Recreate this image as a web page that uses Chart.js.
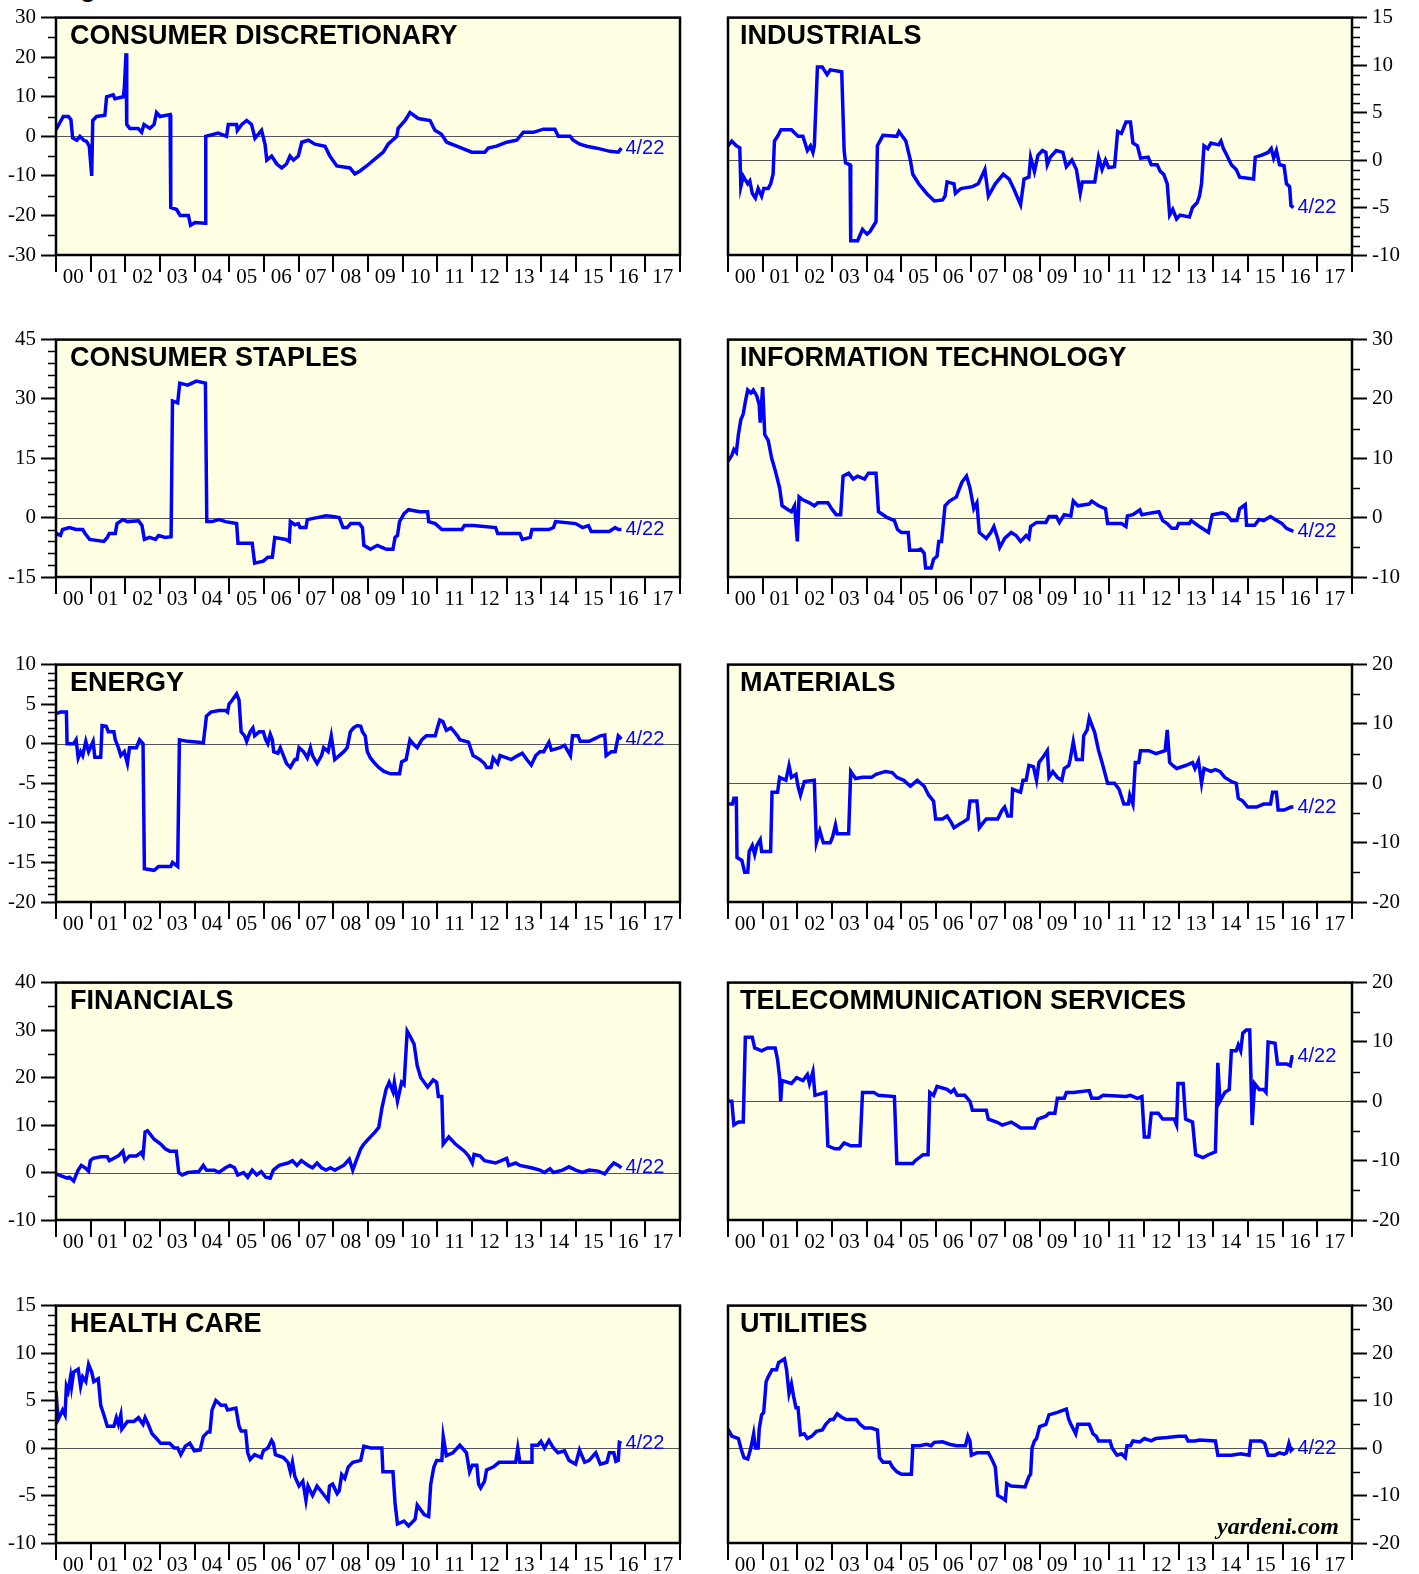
<!DOCTYPE html>
<html>
<head>
<meta charset="utf-8">
<title>S&amp;P 500 Sectors</title>
<script src="https://cdn.jsdelivr.net/npm/chart.js@4.4.0/dist/chart.umd.min.js"></script>
<style>
  body { margin: 0; background: #fff; width: 1419px; height: 1574px; position: relative; overflow: hidden; }
  canvas { position: absolute; z-index: 1; }
  .title { position: absolute; z-index: 2; font: bold 27px 'Liberation Sans', Arial, sans-serif; line-height: 27px; color: #000; white-space: nowrap; }
  .brand { position: absolute; z-index: 2; right: 80px; top: 1514px; font: italic bold 24px 'Liberation Serif', serif; line-height: 24px; color: #000; }
  .cut { position: absolute; left: 80px; top: -25px; font: bold 26px 'Liberation Sans', Arial, sans-serif; line-height: 26px; }
</style>
</head>
<body>
<div class="cut">g</div>
<div class="brand">yardeni.com</div>

<script type="text/javascript">

// x values are years since 2000
const yearLabels = ['00','01','02','03','04','05','06','07','08','09','10','11','12','13','14','15','16','17'];

const consumerDiscretionary = [
  [0,1.7],[0.21,5],[0.36,5],[0.43,4.2],[0.48,-0.4],[0.60,-1],[0.69,0],[0.80,-1],[0.88,-1.3],[0.96,-2.5],[1.03,-10],[1.06,4],
  [1.17,5],[1.41,5.3],[1.46,10],[1.65,10.5],[1.70,9.5],[1.94,10],[1.97,12],[2.02,21],[2.04,3],[2.13,2],[2.37,2],[2.47,1],
  [2.54,3],[2.71,2],[2.83,3],[2.90,6],[3.00,5],[3.29,5.5],[3.31,-18],[3.48,-18.5],[3.58,-20],[3.82,-20],[3.88,-22.5],
  [4.01,-21.8],[4.30,-22],[4.32,0],[4.68,0.8],[4.92,0],[4.97,3],[5.21,3],[5.23,1.5],[5.36,3],[5.50,4],[5.64,3],[5.74,-0.5],
  [5.93,1.5],[6.03,-2],[6.08,-6],[6.22,-5],[6.37,-7],[6.51,-8],[6.65,-7],[6.75,-5],[6.85,-6],[6.99,-5],[7.09,-1.5],[7.28,-1],
  [7.47,-2],[7.76,-2.5],[7.90,-5],[8.10,-7.5],[8.48,-8],[8.62,-9.5],[8.77,-8.75],[8.96,-7.5],[9.30,-5],[9.44,-4],[9.58,-2],
  [9.83,0],[9.87,2],[10.07,4],[10.21,6],[10.45,4.5],[10.79,4],[10.93,1.5],[11.12,0.5],[11.27,-1.5],[11.56,-2.5],[11.99,-4],
  [12.37,-4],[12.47,-3],[12.71,-2.5],[13.00,-1.5],[13.29,-1],[13.48,1],[13.77,1],[14.06,1.8],[14.39,1.8],[14.49,0],[14.83,0],
  [14.92,-1],[15.11,-2],[15.31,-2.5],[15.60,-3],[15.98,-3.8],[16.22,-4],[16.31,-3]
];

const industrials = [
  [0,1.5],[0.11,2],[0.24,1.5],[0.34,1.3],[0.37,-2.8],[0.44,-1.7],[0.57,-2.5],[0.63,-2.2],[0.70,-3.5],[0.79,-4],[0.87,-3],
  [0.97,-3.8],[1.03,-3],[1.16,-3],[1.23,-2.5],[1.30,-1.5],[1.34,2],[1.43,2.5],[1.53,3.2],[1.83,3.2],[2.02,2.5],[2.16,2.5],
  [2.29,1],[2.38,1.5],[2.45,0.8],[2.49,1.5],[2.58,9.8],[2.72,9.8],[2.86,9],[2.95,9.5],[3.28,9.3],[3.35,1],[3.39,-0.3],
  [3.52,-0.5],[3.54,-8.5],[3.74,-8.5],[3.88,-7.3],[4.01,-7.8],[4.10,-7.5],[4.27,-6.5],[4.31,1.5],[4.47,2.6],[4.87,2.5],
  [4.93,3],[5.13,2],[5.26,0],[5.33,-1.5],[5.50,-2.5],[5.75,-3.6],[5.95,-4.3],[6.19,-4.2],[6.26,-3.8],[6.32,-2.3],[6.52,-2.5],
  [6.56,-3.5],[6.72,-3],[7.05,-2.8],[7.22,-2.5],[7.41,-1],[7.51,-3.8],[7.71,-2.5],[7.94,-1.5],[8.11,-2],[8.24,-3],[8.44,-4.7],
  [8.54,-2],[8.68,-1.8],[8.73,0.3],[8.84,-1.2],[8.94,0.5],[9.07,1],[9.17,0.8],[9.21,-0.5],[9.30,0.3],[9.47,1],[9.66,0.8],
  [9.76,-0.7],[9.92,0],[10.05,-1],[10.16,-3.5],[10.22,-2.3],[10.58,-2.3],[10.69,0.3],[10.79,-1],[10.89,0],[10.98,-0.8],
  [11.15,-0.7],[11.24,3],[11.35,2.8],[11.48,4],[11.61,4],[11.68,1.8],[11.81,1.5],[11.90,0.2],[12.12,0.3],[12.21,-0.5],
  [12.38,-0.5],[12.47,-1.2],[12.57,-1.5],[12.67,-2.5],[12.74,-5.8],[12.83,-5.2],[12.94,-6.2],[13.04,-5.8],[13.31,-6],
  [13.40,-5],[13.53,-4.5],[13.60,-3.8],[13.66,-2.5],[13.73,1.5],[13.84,1.2],[13.93,1.8],[14.15,1.6],[14.22,2],[14.29,1.2],
  [14.39,0.5],[14.52,-0.5],[14.66,-1],[14.76,-1.8],[15.16,-2],[15.21,0.3],[15.38,0.5],[15.58,0.8],[15.67,1.2],[15.74,0.2],
  [15.82,1],[15.91,-0.5],[16.04,-0.6],[16.11,-2.5],[16.20,-2.8],[16.24,-4.8],[16.31,-5]
];

const consumerStaples = [
  [0,-4],[0.13,-4.5],[0.19,-3],[0.39,-2.5],[0.58,-3],[0.77,-3],[0.84,-4],[0.97,-5.5],[1.38,-6],[1.48,-5],[1.54,-4],[1.71,-4],
  [1.76,-1.5],[1.93,-0.5],[2.06,-1],[2.38,-0.8],[2.48,-2],[2.55,-5.5],[2.70,-5],[2.87,-5.5],[2.96,-4.5],[3.15,-5],[3.32,-4.8],
  [3.36,29.5],[3.51,29],[3.57,34],[3.80,33.5],[4.05,34.5],[4.31,34],[4.35,-1],[4.50,-1],[4.70,-0.5],[4.89,-1],[5.21,-1.5],
  [5.25,-6.5],[5.66,-6.5],[5.73,-11.5],[5.98,-11],[6.11,-10],[6.24,-10],[6.31,-5],[6.63,-5.5],[6.73,-6],[6.76,-1],[6.89,-1.8],
  [6.99,-1.5],[7.04,-2.5],[7.21,-2.5],[7.25,-0.5],[7.53,0],[7.79,0.5],[7.98,0.3],[8.17,0],[8.28,-2.5],[8.40,-2.5],[8.50,-1.5],
  [8.75,-1.5],[8.84,-2.5],[8.88,-7],[9.07,-8],[9.27,-7],[9.40,-7.5],[9.53,-8],[9.72,-8],[9.78,-5],[9.85,-4.5],[9.91,-1],
  [10.04,1],[10.17,2],[10.49,1.5],[10.72,1.5],[10.75,-1],[10.94,-1.5],[11.13,-3],[11.71,-3],[11.78,-2],[12.04,-2],[12.68,-2.5],
  [12.74,-4],[13.38,-4],[13.45,-5.5],[13.68,-5],[13.73,-3],[14.22,-3],[14.35,-2.5],[14.41,-1],[14.99,-1.5],[15.19,-2.5],
  [15.36,-2],[15.44,-3.5],[15.96,-3.5],[16.13,-2.5],[16.22,-3],[16.31,-3]
];

const infoTech = [
  [0,9.5],[0.11,10.5],[0.17,11.5],[0.24,11],[0.30,14],[0.37,16.5],[0.44,17.5],[0.50,19.5],[0.57,21.5],[0.66,21],[0.73,21.5],
  [0.83,20.5],[0.90,19],[0.93,16],[1.00,22],[1.06,14],[1.16,13],[1.26,10],[1.36,8],[1.49,5],[1.56,2],[1.69,1.5],[1.83,1],
  [1.92,2],[2.00,-4],[2.05,3.5],[2.16,3],[2.35,2.5],[2.49,2],[2.59,2.5],[2.88,2.5],[2.99,1.5],[3.12,0.5],[3.25,0.5],[3.32,7],
  [3.48,7.5],[3.61,6.5],[3.74,7],[3.94,6.5],[4.05,7.5],[4.27,7.5],[4.34,1],[4.47,0.5],[4.60,0],[4.80,-0.5],[4.89,-2],[5.00,-2.5],
  [5.20,-2.5],[5.24,-5.5],[5.46,-5.5],[5.56,-5.3],[5.66,-6],[5.70,-8.5],[5.86,-8.5],[5.93,-7],[6.03,-6.5],[6.08,-4],[6.16,-4],
  [6.26,2],[6.39,2.8],[6.59,3.5],[6.65,4.5],[6.75,6],[6.88,7],[6.98,5],[7.09,1.5],[7.18,2.5],[7.25,-2.5],[7.35,-3],[7.45,-3.5],
  [7.58,-2.5],[7.67,-1.5],[7.78,-3.5],[7.84,-5],[7.98,-3.5],[8.17,-2.5],[8.31,-3],[8.44,-4],[8.60,-3],[8.68,-3.5],[8.73,-1.5],
  [8.90,-0.8],[9.17,-0.8],[9.26,0.2],[9.47,0.2],[9.56,-0.8],[9.70,0.5],[9.89,0.3],[9.96,2.8],[10.09,2],[10.42,2.3],[10.49,2.8],
  [10.69,2],[10.89,1.5],[10.95,-1],[11.35,-1],[11.48,-1.5],[11.52,0.3],[11.68,0.5],[11.88,1.3],[11.94,0.5],[12.21,0.8],
  [12.43,1],[12.54,-0.5],[12.67,-1],[12.80,-1.8],[12.94,-1.8],[13.00,-1],[13.31,-1],[13.36,-0.5],[13.60,-1.5],[13.86,-2.5],
  [13.97,0.5],[14.26,0.8],[14.39,0.5],[14.52,-0.5],[14.68,-0.5],[14.76,1.5],[14.92,2.2],[14.96,-1.3],[15.19,-1.3],[15.32,-0.3],
  [15.45,-0.5],[15.65,0.2],[15.78,-0.3],[15.98,-1],[16.11,-1.8],[16.31,-2.3]
];

const energy = [
  [0,3.8],[0.13,4],[0.30,4],[0.32,0],[0.51,0],[0.58,0.5],[0.64,-1.8],[0.71,-1],[0.77,-1.5],[0.86,0.3],[0.94,-1],[1.07,0.3],
  [1.12,-1.7],[1.29,-1.7],[1.33,2.3],[1.45,2.2],[1.51,1.5],[1.67,1.5],[1.71,0.5],[1.80,-0.5],[1.87,-1.5],[1.97,-1],[2.06,-2.5],
  [2.12,-0.5],[2.32,-0.5],[2.41,0.5],[2.51,0],[2.55,-15.8],[2.83,-16],[2.96,-15.5],[3.31,-15.5],[3.36,-15],[3.51,-15.5],
  [3.56,0.5],[3.80,0.3],[4.12,0.2],[4.25,0.1],[4.34,3.5],[4.47,4],[4.70,4.2],[4.89,4.2],[4.95,4],[4.99,5],[5.08,5.5],[5.21,6.3],
  [5.28,5.5],[5.34,1.5],[5.44,1],[5.50,0.3],[5.60,1.5],[5.68,2],[5.73,1],[5.86,1.5],[5.98,1.5],[6.05,0.5],[6.11,0],[6.18,1.2],
  [6.24,0.5],[6.28,-1],[6.40,-1.2],[6.47,-0.5],[6.56,-1.5],[6.65,-2.5],[6.76,-3],[6.89,-2],[6.95,-2],[7.01,-0.5],[7.14,-1],
  [7.25,-1.8],[7.34,-0.5],[7.40,-1.5],[7.53,-2.5],[7.66,-1.5],[7.72,-0.5],[7.85,-1],[7.94,1],[8.04,-2],[8.17,-1.5],[8.30,-1],
  [8.40,-0.5],[8.49,1.5],[8.58,2],[8.69,2.3],[8.79,2.2],[8.84,1.5],[8.92,1],[8.98,-1],[9.07,-1.8],[9.20,-2.5],[9.31,-3],
  [9.46,-3.5],[9.65,-3.8],[9.91,-3.8],[9.97,-2.3],[10.10,-2],[10.21,0.5],[10.30,0],[10.42,-0.5],[10.55,0.5],[10.68,1],
  [10.94,1],[11.00,2],[11.07,3],[11.16,2.8],[11.26,1.7],[11.39,2],[11.49,1.5],[11.58,1],[11.65,0.5],[11.90,0.2],[12.03,-1.5],
  [12.23,-2],[12.36,-2.5],[12.42,-3],[12.55,-3],[12.61,-1.8],[12.74,-2.5],[12.81,-1.5],[13.00,-1.8],[13.13,-2],[13.32,-1.5],
  [13.45,-1.2],[13.58,-2],[13.71,-2.7],[13.84,-1.5],[13.96,-1],[14.07,-1],[14.22,0.2],[14.29,-0.8],[14.54,-0.5],[14.67,-0.2],
  [14.84,-1.5],[14.90,1],[15.06,1],[15.12,0.3],[15.38,0.3],[15.57,0.7],[15.70,1],[15.83,1.1],[15.87,-1.5],[16.02,-1],
  [16.13,-1],[16.22,1],[16.31,0.6]
];

const materials = [
  [0,-3.5],[0.13,-3.5],[0.17,-2.5],[0.24,-2.5],[0.26,-12.5],[0.40,-13],[0.48,-15],[0.57,-15],[0.61,-11.5],[0.70,-10.5],
  [0.77,-12],[0.83,-10.5],[0.93,-9.5],[0.97,-11.5],[1.23,-11.5],[1.27,-1.5],[1.43,-1.5],[1.49,1],[1.67,0.5],[1.76,3],[1.83,1],
  [1.96,1.5],[2.02,-0.5],[2.09,-2],[2.20,0.3],[2.49,0.5],[2.55,-10],[2.65,-8],[2.75,-10],[2.95,-10],[3.02,-9],[3.10,-7],
  [3.15,-8.5],[3.48,-8.5],[3.54,2],[3.68,0.8],[3.88,1],[4.14,1],[4.27,1.5],[4.54,2],[4.74,1.8],[4.87,1],[5.07,0.5],[5.26,-0.5],
  [5.46,0.5],[5.66,-0.5],[5.79,-2],[5.93,-3],[5.99,-6],[6.19,-6],[6.32,-5.5],[6.43,-6.5],[6.52,-7.5],[6.65,-7],[6.79,-6.5],
  [6.92,-6],[6.98,-3],[7.18,-3],[7.25,-7.5],[7.38,-6.5],[7.45,-6],[7.78,-6],[7.91,-4.5],[7.98,-4],[8.07,-5.5],[8.17,-5.5],
  [8.21,-1],[8.44,-1.5],[8.51,0.5],[8.60,0.5],[8.68,3],[8.81,2.8],[8.90,0.5],[8.97,3.5],[9.10,4.5],[9.21,5.5],[9.26,1],[9.37,2],
  [9.50,1],[9.63,0.5],[9.70,2.5],[9.83,3],[9.87,4],[9.96,7],[10.05,4],[10.22,4],[10.26,8],[10.36,9],[10.42,11],[10.58,8.5],
  [10.69,5.5],[10.79,3.5],[10.95,0],[11.15,0],[11.28,-1],[11.42,-3.5],[11.55,-3.5],[11.59,-2],[11.68,-3.5],[11.75,3.5],
  [11.85,3.5],[11.90,5.5],[12.14,5.5],[12.34,5],[12.61,5.5],[12.67,9],[12.74,3.5],[12.83,3],[12.94,2.5],[13.20,3],[13.40,3.5],
  [13.47,2.5],[13.57,3.8],[13.66,0],[13.73,2.5],[13.93,2],[14.06,2.3],[14.19,2],[14.33,1],[14.52,0.3],[14.66,0],[14.72,-2.5],
  [14.85,-3],[14.99,-4],[15.25,-4],[15.45,-3.5],[15.65,-3.5],[15.71,-1.5],[15.82,-1.5],[15.87,-4.5],[16.04,-4.5],[16.24,-4],
  [16.31,-4]
];

const financials = [
  [0,-0.3],[0.19,-0.8],[0.32,-1.2],[0.39,-1],[0.51,-1.8],[0.58,-0.5],[0.64,0.5],[0.73,1.5],[0.84,1],[0.94,0.3],[0.99,2.5],
  [1.07,3],[1.29,3.3],[1.48,3.3],[1.54,2.5],[1.67,3],[1.80,3.5],[1.93,4.5],[1.99,2.5],[2.12,3.5],[2.32,3.5],[2.45,4.2],
  [2.51,3.5],[2.57,8.5],[2.64,8.8],[2.83,7],[3.02,6],[3.15,5],[3.28,4.5],[3.47,4.5],[3.54,0],[3.64,-0.5],[3.80,0],[4.12,0.2],
  [4.25,1.5],[4.34,0.5],[4.57,0.5],[4.70,0],[4.89,1],[5.02,1.5],[5.15,1],[5.24,-0.5],[5.41,0],[5.53,-1],[5.66,0.5],[5.79,-0.5],
  [5.92,0.2],[6.05,-1],[6.18,-1.2],[6.27,0.5],[6.44,1.5],[6.69,2],[6.82,2.5],[6.95,1.5],[7.08,2.5],[7.27,1.5],[7.40,1],[7.53,2],
  [7.66,1],[7.79,0.5],[7.92,1],[8.04,0.5],[8.17,1],[8.30,1.5],[8.46,2.8],[8.56,0.5],[8.66,2.5],[8.79,5],[8.88,6],[9.07,7.5],
  [9.20,8.5],[9.31,9.5],[9.40,13.5],[9.52,17.5],[9.61,19],[9.72,17],[9.76,19],[9.85,15],[9.97,19],[10.04,18.5],[10.13,29.8],
  [10.23,28.5],[10.33,27],[10.42,22.5],[10.52,20],[10.62,19],[10.72,18],[10.88,19.5],[10.98,19],[11.03,16],[11.13,16],
  [11.17,6],[11.33,7.5],[11.52,6],[11.78,4.5],[11.90,3.5],[12.01,2],[12.06,3.8],[12.23,3.5],[12.36,2.5],[12.68,2],[13.00,3],
  [13.06,1.5],[13.26,2],[13.38,1.5],[13.71,1],[13.96,0.5],[14.09,0],[14.25,0.8],[14.35,0],[14.61,0.5],[14.80,1.2],[14.99,0.5],
  [15.19,0],[15.38,0.5],[15.64,0.3],[15.83,-0.3],[15.96,1],[16.09,2],[16.22,1.5],[16.31,1]
];

const telecom = [
  [0,0],[0.11,0],[0.17,-4],[0.30,-3.5],[0.44,-3.5],[0.50,10.8],[0.70,10.8],[0.77,9],[0.97,8.5],[1.14,9],[1.36,9],[1.43,7],
  [1.49,4],[1.52,0],[1.56,3.5],[1.83,3],[1.98,4],[2.16,3.5],[2.29,4.5],[2.35,3],[2.45,5],[2.51,1],[2.82,1.5],[2.88,-7.5],
  [3.08,-8],[3.21,-8],[3.35,-7],[3.54,-7.5],[3.81,-7.5],[3.88,1.5],[4.21,1.5],[4.34,1],[4.80,0.8],[4.87,-10.5],[5.33,-10.5],
  [5.40,-10],[5.63,-9],[5.77,-9],[5.82,1.5],[5.93,1],[6.03,2.5],[6.32,2],[6.43,1.5],[6.52,2],[6.61,1],[6.83,1],[6.98,0],
  [7.05,-1.5],[7.45,-1.5],[7.51,-3],[7.75,-3.5],[7.91,-4],[8.17,-3.5],[8.31,-4],[8.44,-4.5],[8.84,-4.5],[8.94,-3],[9.17,-2.5],
  [9.26,-2],[9.43,-2],[9.50,0.5],[9.70,0.5],[9.76,1.5],[9.96,1.5],[10.42,1.8],[10.49,0.5],[10.69,0.5],[10.82,1],[11.48,0.8],
  [11.61,1],[11.81,0.5],[11.94,0.8],[12.01,-6],[12.14,-6],[12.21,-2],[12.41,-2],[12.54,-3],[12.87,-3],[12.94,-4],[12.98,3],
  [13.13,3],[13.20,-3],[13.40,-3.5],[13.49,-9],[13.70,-9.5],[13.86,-9],[14.06,-8.5],[14.13,6.5],[14.19,0],[14.33,1.5],
  [14.46,2],[14.52,8.5],[14.66,8.5],[14.72,9.5],[14.79,8.5],[14.85,11.5],[14.95,12],[15.05,12],[15.12,-4],[15.19,3],[15.32,2],
  [15.45,2],[15.52,1.5],[15.58,10],[15.78,9.8],[15.85,6.3],[16.11,6.3],[16.22,6],[16.27,7.5],[16.31,7.5]
];

const healthCare = [
  [0,6],[0.06,3],[0.13,3.5],[0.19,4],[0.26,3.5],[0.30,6.5],[0.35,6],[0.42,7.5],[0.45,6.5],[0.51,8],[0.64,8.3],[0.71,6.5],
  [0.77,7.5],[0.86,7],[0.94,8.8],[1.03,8],[1.09,7],[1.22,7.3],[1.29,4.5],[1.38,3.5],[1.48,2.3],[1.67,2.3],[1.74,3.2],[1.80,2.5],
  [1.87,3.5],[1.90,2],[2.06,2.8],[2.25,2.8],[2.38,3.2],[2.51,2.5],[2.57,3.2],[2.66,2.5],[2.77,1.5],[2.90,1],[3.02,0.5],
  [3.28,0.5],[3.41,0],[3.51,0],[3.60,-0.7],[3.73,0.2],[3.86,0.5],[3.99,-0.3],[4.16,-0.2],[4.25,1.2],[4.38,1.7],[4.44,1.7],
  [4.50,4],[4.61,5],[4.76,4.5],[4.89,4.5],[4.95,4],[5.19,4.2],[5.28,2.3],[5.34,1.8],[5.47,1.8],[5.53,-0.5],[5.60,-1.2],
  [5.73,-0.7],[5.92,-1],[5.98,-0.3],[6.11,0],[6.22,0.8],[6.27,0.5],[6.33,-0.7],[6.56,-1],[6.69,-1.5],[6.76,-2.5],[6.82,-1.5],
  [6.89,-3],[7.01,-4],[7.12,-3.5],[7.21,-5.5],[7.27,-4],[7.40,-5],[7.53,-4],[7.85,-5.5],[7.89,-4],[7.98,-3.8],[8.11,-4.8],
  [8.17,-4.5],[8.24,-2.8],[8.33,-3.2],[8.43,-2],[8.56,-1.5],[8.79,-1.3],[8.88,0.2],[9.07,0],[9.40,0],[9.43,-2.5],[9.72,-2.5],
  [9.78,-5.8],[9.85,-8],[10.04,-7.7],[10.17,-8.2],[10.36,-7.5],[10.42,-6],[10.62,-7],[10.75,-7.2],[10.81,-3.8],[10.90,-2],
  [10.98,-1.3],[11.13,-1.3],[11.17,1.2],[11.26,-0.8],[11.45,-0.5],[11.65,0.3],[11.84,-0.5],[11.93,-2.5],[12.01,-1.8],
  [12.14,-1.8],[12.19,-3.8],[12.25,-4.2],[12.36,-3.5],[12.42,-2.3],[12.61,-2],[12.78,-1.5],[13.06,-1.5],[13.26,-1.5],[13.32,0],
  [13.38,-1.5],[13.71,-1.5],[13.73,0.3],[13.90,0.3],[13.99,0.7],[14.09,0],[14.22,0.8],[14.35,0],[14.48,-0.5],[14.67,-0.3],
  [14.80,-1.3],[14.99,-1.7],[15.10,-0.2],[15.25,-1.5],[15.38,-1.3],[15.57,-0.5],[15.70,-1.7],[15.89,-1.5],[15.96,-0.5],
  [16.09,-0.5],[16.15,-1.4],[16.22,-1.3],[16.25,0.6],[16.31,0.5]
];

const utilities = [
  [0,4],[0.11,2.5],[0.30,2],[0.37,0],[0.46,-2],[0.57,-2.3],[0.66,0],[0.74,3],[0.79,0],[0.87,0],[0.90,4],[0.97,7],[1.03,7.5],
  [1.10,14],[1.16,15],[1.27,16.5],[1.40,16.5],[1.46,18],[1.63,18.8],[1.69,16.5],[1.76,11.5],[1.83,13.5],[1.89,11],[1.96,8.5],
  [2.02,8.5],[2.09,2.8],[2.20,3],[2.29,2],[2.42,2.5],[2.55,3.5],[2.72,3.8],[2.82,5],[2.95,6],[3.04,6],[3.15,7.2],[3.28,6.5],
  [3.41,6],[3.70,6],[3.81,5],[3.94,4.2],[4.14,4.2],[4.31,3.8],[4.37,-2],[4.47,-3],[4.67,-3],[4.74,-4],[4.87,-5],[5.00,-5.5],
  [5.29,-5.5],[5.33,0.5],[5.53,0.5],[5.73,0.8],[5.86,0.5],[5.95,1.2],[6.19,1.3],[6.39,0.8],[6.59,0.5],[6.85,0.5],[6.92,2.5],
  [6.98,1.5],[7.02,-1.5],[7.18,-1],[7.51,-1],[7.62,-2.5],[7.71,-4],[7.78,-10],[7.91,-10.5],[8.00,-11],[8.04,-7.5],[8.17,-8],
  [8.57,-8.2],[8.68,-6],[8.73,-5.5],[8.77,0],[8.84,1.5],[8.90,2],[8.99,4.5],[9.17,5],[9.26,7],[9.50,7.5],[9.76,8.2],[9.83,6],
  [9.89,5],[9.96,4],[10.03,3],[10.09,5],[10.42,5],[10.53,3],[10.62,2.5],[10.69,1.5],[11.02,1.5],[11.08,0],[11.22,-1.5],
  [11.35,-1.2],[11.46,-2],[11.51,0.5],[11.61,0.5],[11.68,1.5],[11.88,1.3],[12.01,2],[12.21,1.5],[12.34,2],[12.67,2.2],
  [13.00,2.5],[13.20,2.5],[13.27,1.5],[13.47,1.5],[13.60,1.7],[14.06,1.5],[14.13,-1.5],[14.52,-1.5],[14.79,-1.2],[15.03,-1.5],
  [15.08,1.5],[15.38,1.5],[15.48,1],[15.58,-1.5],[15.78,-1.5],[15.91,-1],[16.04,-1.3],[16.11,-1],[16.18,1],[16.24,-0.5],
  [16.31,0]
];

const endLabel = '4/22';

// layout: row tops of the plot frames, column plot x ranges
const rowTops = [15, 337, 662, 980, 1303];
const panels = [
  { title: 'CONSUMER DISCRETIONARY', data: consumerDiscretionary, min: -30, max: 30, major: 10, minor: 5, row: 0, col: 0 },
  { title: 'INDUSTRIALS', data: industrials, min: -10, max: 15, major: 5, minor: 1, row: 0, col: 1 },
  { title: 'CONSUMER STAPLES', data: consumerStaples, min: -15, max: 45, major: 15, minor: 3, row: 1, col: 0 },
  { title: 'INFORMATION TECHNOLOGY', data: infoTech, min: -10, max: 30, major: 10, minor: 5, row: 1, col: 1 },
  { title: 'ENERGY', data: energy, min: -20, max: 10, major: 5, minor: 1, row: 2, col: 0 },
  { title: 'MATERIALS', data: materials, min: -20, max: 20, major: 10, minor: 5, row: 2, col: 1 },
  { title: 'FINANCIALS', data: financials, min: -10, max: 40, major: 10, minor: 5, row: 3, col: 0 },
  { title: 'TELECOMMUNICATION SERVICES', data: telecom, min: -20, max: 20, major: 10, minor: 5, row: 3, col: 1 },
  { title: 'HEALTH CARE', data: healthCare, min: -10, max: 15, major: 5, minor: 1, row: 4, col: 0 },
  { title: 'UTILITIES', data: utilities, min: -20, max: 30, major: 10, minor: 5, row: 4, col: 1 }
];

const BG = '#ffffe4';
const BLUE = '#0000ff';
const tickFont = { family: "'Liberation Serif', 'Times New Roman', serif", size: 21 };

const panelPlugin = {
  id: 'panelDecor',
  beforeDraw(chart) {
    const a = chart.chartArea, ctx = chart.ctx;
    ctx.save();
    ctx.fillStyle = BG;
    ctx.fillRect(a.left, a.top, a.right - a.left, a.bottom - a.top);
    ctx.restore();
  },
  beforeDatasetsDraw(chart) {
    const a = chart.chartArea, ctx = chart.ctx;
    const y0 = Math.round(chart.scales.y.getPixelForValue(0)) + 0.5;
    ctx.save();
    ctx.strokeStyle = '#555';
    ctx.lineWidth = 1.2;
    ctx.beginPath();
    ctx.moveTo(a.left, y0);
    ctx.lineTo(a.right, y0);
    ctx.stroke();
    ctx.restore();
  },
  afterDraw(chart) {
    const a = chart.chartArea, ctx = chart.ctx;
    const p = chart.options.plugins.panelDecor;
    const ys = chart.scales.y;
    ctx.save();
    // minor ticks
    ctx.strokeStyle = '#000';
    ctx.lineWidth = 1.5;
    ys.ticks.forEach(t => {
      if (Math.abs(t.value % p.major) < 1e-6) return;
      const yy = Math.round(ys.getPixelForValue(t.value)) + 0.5;
      ctx.beginPath();
      if (p.left) { ctx.moveTo(a.left - 8, yy); ctx.lineTo(a.left, yy); }
      else { ctx.moveTo(a.right, yy); ctx.lineTo(a.right + 8, yy); }
      ctx.stroke();
    });
    // frame
    ctx.lineWidth = 2.5;
    ctx.strokeRect(a.left, a.top, a.right - a.left, a.bottom - a.top);
    // end label
    const pts = chart.getDatasetMeta(0).data;
    const last = pts[pts.length - 1];
    ctx.fillStyle = BLUE;
    ctx.font = "20px 'Liberation Sans', Arial, sans-serif";
    ctx.textBaseline = 'middle';
    ctx.textAlign = 'left';
    ctx.fillText(endLabel, last.x + 4, last.y);
    ctx.restore();
  }
};

panels.forEach(p => {
  const left = p.col === 0;
  const canvas = document.createElement('canvas');
  const cw = left ? 700 : 719;
  canvas.width = cw;
  canvas.height = 300;
  canvas.style.left = (left ? 0 : 700) + 'px';
  canvas.style.top = (rowTops[p.row] - 15) + 'px';
  document.body.appendChild(canvas);

  const title = document.createElement('div');
  title.className = 'title';
  title.textContent = p.title;
  title.style.left = (left ? 70 : 740) + 'px';
  title.style.top = (rowTops[p.row] + 7) + 'px';
  document.body.appendChild(title);

  const isMajor = v => Math.abs(v % p.major) < 1e-6;

  new Chart(canvas, {
    type: 'line',
    data: {
      datasets: [{
        data: p.data.map(d => ({ x: d[0], y: d[1] })),
        borderColor: BLUE,
        borderWidth: 3.5,
        pointRadius: 0,
        tension: 0,
        fill: false,
        xAxisID: 'x',
        yAxisID: 'y'
      }]
    },
    options: {
      responsive: false,
      animation: false,
      events: [],
      layout: { padding: { top: 15, bottom: 0, left: left ? 0 : 28, right: left ? 20 : 0 } },
      plugins: {
        legend: { display: false },
        tooltip: { enabled: false },
        panelDecor: { major: p.major, left: left }
      },
      scales: {
        x: { type: 'linear', min: 0, max: 18, display: false },
        years: {
          type: 'category',
          labels: yearLabels,
          position: 'bottom',
          offset: true,
          grid: { offset: true, drawOnChartArea: false, tickLength: 17, color: '#000', lineWidth: 2 },
          border: { display: false },
          ticks: { font: tickFont, color: '#000', padding: -7, maxRotation: 0, autoSkip: false },
          afterFit: s => { s.height = 45; }
        },
        y: {
          type: 'linear',
          position: left ? 'left' : 'right',
          min: p.min,
          max: p.max,
          ticks: {
            stepSize: p.minor,
            autoSkip: false,
            font: tickFont,
            color: '#000',
            padding: 5,
            callback: v => isMajor(v) ? String(v) : ''
          },
          grid: {
            drawOnChartArea: false,
            tickLength: 15,
            tickWidth: 2,
            tickColor: c => (c.tick && isMajor(c.tick.value)) ? '#000' : 'rgba(0,0,0,0)'
          },
          border: { display: false },
          afterFit: s => { s.width = left ? 56 : 67; }
        }
      }
    },
    plugins: [panelPlugin]
  });
});

</script>
</body>
</html>
